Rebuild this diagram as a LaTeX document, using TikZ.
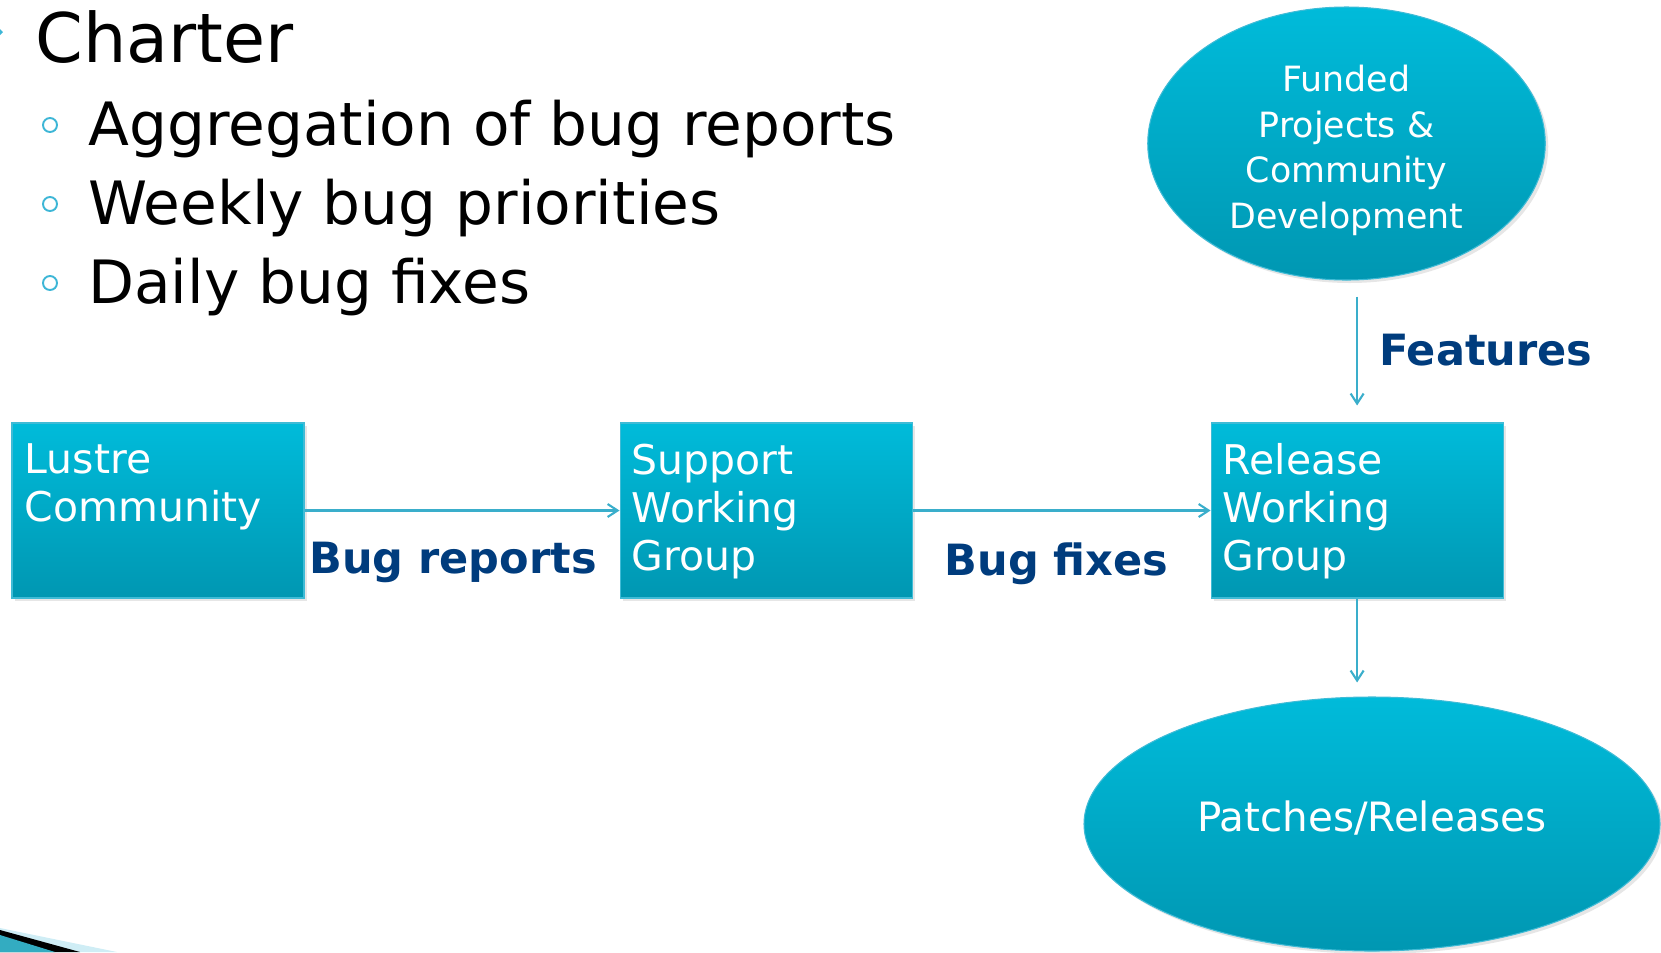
\documentclass[tikz,border=0pt]{standalone}
\usepackage{fontspec}
\setmainfont{DejaVu Sans}
\usetikzlibrary{positioning, shapes.geometric, arrows.meta, shadows}

\definecolor{tealtop}{HTML}{00BBDA}
\definecolor{tealbot}{HTML}{0097B2}
\definecolor{boxedge}{HTML}{3FBBD6}
\definecolor{flowline}{HTML}{3AAECB}
\definecolor{labelblue}{HTML}{003C7D}
\definecolor{ringcol}{HTML}{3DB6D6}

\begin{document}
\begin{tikzpicture}[
	box/.style={rectangle, draw=boxedge, line width=0.6pt, top color=tealtop, bottom color=tealbot,
		minimum width=5.84cm, minimum height=3.5cm, inner sep=0pt,
		drop shadow={opacity=0.2, shadow xshift=0.06cm, shadow yshift=-0.06cm}},
	blob/.style={ellipse, draw=boxedge, line width=0.6pt, top color=tealtop, bottom color=tealbot,
		inner sep=0pt, text=white, align=center,
		drop shadow={opacity=0.2, shadow xshift=0.06cm, shadow yshift=-0.06cm}},
	boxtext/.style={anchor=north west, inner sep=0pt, text=white, align=left,
		font=\fontsize{23.3}{27.3}\selectfont},
	flow/.style={draw=flowline, line width=1.2pt, -{Straight Barb[length=0.2cm, width=0.26cm]}},
	flowlabel/.style={text=labelblue, inner sep=0pt, font=\fontsize{24.5}{28}\selectfont\bfseries},
	ring/.style={draw=ringcol, line width=1.1pt},
	]
	\useasboundingbox (0,0) rectangle (33.22,-19.04);

	% slide text
	\fill[ringcol] (0,-0.58) -- (0.06,-0.64) -- (0,-0.7) -- cycle;
	\node[anchor=base west, inner sep=0pt, font=\fontsize{38.9}{44}\selectfont] (charter) at (0.7,-1.24) {Charter};
	\foreach \t [count=\i] in {Aggregation of bug reports, Weekly bug priorities, Daily bug fixes} {
		\draw[ring] (1.0,{-2.5-(\i-1)*1.58}) circle (0.14);
		\node[anchor=base west, inner sep=0pt, font=\fontsize{34}{38}\selectfont] (item\i) at (1.76,{-2.9-(\i-1)*1.58}) {\t};
	}

	% flow
	\node[box] (lustre) at (3.16,-10.21) {};
	\node[box, right=6.3cm of lustre] (support) {};
	\node[box, right=5.96cm of support] (release) {};

	\node[boxtext] at ([xshift=0.26cm, yshift=-0.42cm]lustre.north west) {Lustre\\Community};
	\node[boxtext] at ([xshift=0.24cm, yshift=-0.42cm]support.north west) {Support\\Working\\Group};
	\node[boxtext] at ([xshift=0.24cm, yshift=-0.42cm]release.north west) {Release\\Working\\Group};

	\node[blob, minimum width=7.95cm, minimum height=5.46cm, font=\fontsize{19.8}{26}\selectfont] (funded) at (26.93,-2.87)
		{\raisebox{-0.15cm}[\height][\depth]{\begin{tabular}{@{}c@{}}Funded\\Projects \&\\Community\\Development\end{tabular}}};
	\node[blob, minimum width=11.52cm, minimum height=5.08cm, font=\fontsize{23}{28}\selectfont] (patches) at (27.44,-16.48)
		{\raisebox{0.12cm}[\height][\depth]{Patches/Releases}};

	\draw[flow] (lustre) -- (support)
		node[flowlabel, midway, anchor=base, xshift=-0.18cm, yshift=-1.26cm] {Bug reports};
	\draw[flow] (support) -- (release)
		node[flowlabel, midway, anchor=base, xshift=-0.1cm, yshift=-1.29cm] {Bug fixes};
	\draw[flow, shorten <=0.32cm, shorten >=0.34cm] (funded.south -| release.north) -- (release.north)
		node[flowlabel, midway, anchor=base west, xshift=0.42cm, yshift=-0.27cm] {Features};
	\draw[flow, shorten >=0.28cm] (release.south) -- (release.south |- patches.north);

	% corner swoosh
	\fill[ringcol!25] (0,-18.56) -- (2.34,-19.04) -- (0,-19.04) -- cycle;
	\fill[black] (0,-18.6) -- (1.6,-19.04) -- (0,-19.04) -- cycle;
	\fill[tealbot!80] (0,-18.7) -- (1.1,-19.04) -- (0,-19.04) -- cycle;
\end{tikzpicture}
\end{document}
